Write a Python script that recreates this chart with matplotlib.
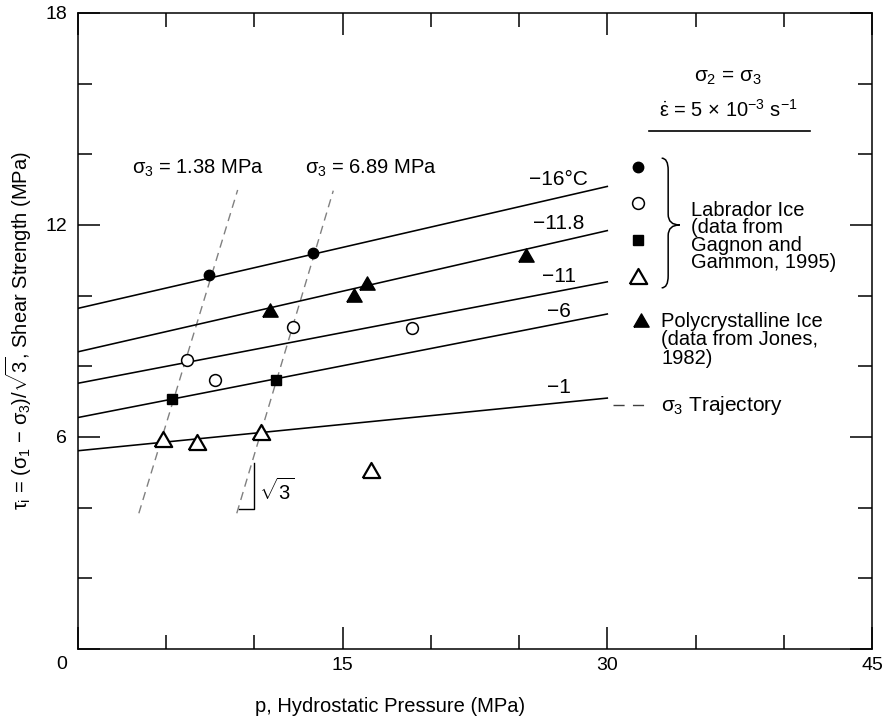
import matplotlib
matplotlib.use('Agg')
import matplotlib.pyplot as plt
from matplotlib.path import Path
from matplotlib.patches import PathPatch
import numpy as np

plt.rcParams['font.family'] = ['Liberation Sans', 'DejaVu Sans']
plt.rcParams['mathtext.fontset'] = 'custom'
plt.rcParams['mathtext.rm'] = 'Liberation Sans'
plt.rcParams['mathtext.it'] = 'Liberation Sans'
plt.rcParams['mathtext.bf'] = 'Liberation Sans:bold'
plt.rcParams['mathtext.sf'] = 'Liberation Sans'

FS = 14.5

# temperature fit lines (p from 0 to 30 MPa)
line_labels = ['\u221216\u00b0C', '\u221211.8', '\u221211', '\u22126', '\u22121']
line_x = [0, 30]
line_y0 = [9.64, 8.41, 7.52, 6.55, 5.61]
line_y1 = [13.09, 11.84, 10.39, 9.48, 7.10]
label_y = [13.30, 12.03, 10.55, 9.54, 7.39]

# Labrador ice (Gagnon and Gammon, 1995)
p_m16 = [7.43, 13.34]
t_m16 = [10.59, 11.22]
p_m118 = [6.16, 7.77, 12.17, 18.95]
t_m118 = [8.18, 7.61, 9.11, 9.09]
p_m6 = [5.35, 11.2]
t_m6 = [7.07, 7.61]
p_m1 = [4.80, 6.73, 10.36, 16.59]
t_m1 = [5.93, 5.87, 6.13, 5.07]

# polycrystalline ice (Jones, 1982)
p_poly = [10.88, 15.65, 16.4, 25.4]
t_poly = [9.58, 10.02, 10.37, 11.15]

# sigma3 trajectories
traj1_p = [3.45, 9.05]
traj1_t = [3.84, 12.99]
traj2_p = [9.0, 14.47]
traj2_t = [3.84, 12.97]

tri = [(-1, -0.866), (1, -0.866), (0, 0.866), (-1, -0.866)]

fig = plt.figure(figsize=(8.83, 7.19), dpi=100)
ax = fig.add_axes([0.0883, 0.0974, 0.8992, 0.8846])

for y0, y1 in zip(line_y0, line_y1):
    ax.plot(line_x, [y0, y1], color='black', lw=1.15, zorder=2)
for lab, ly in zip(line_labels, label_y):
    ax.text(27.25, ly, lab, fontsize=15, ha='center', va='center')

ax.plot(traj1_p, traj1_t, color='#808080', lw=1.0, ls=(0, (6, 4)), zorder=1)
ax.plot(traj2_p, traj2_t, color='#808080', lw=1.0, ls=(0, (6, 4)), zorder=1)
ax.text(3.04, 13.59, r'$\sigma_3$ = 1.38 MPa', fontsize=FS, ha='left', va='center')
ax.text(12.87, 13.59, r'$\sigma_3$ = 6.89 MPa', fontsize=FS, ha='left', va='center')

# sqrt(3) slope mark
ax.plot([9.15, 10.0, 10.0], [3.95, 3.95, 5.25], color='black', lw=1.0)
ax.text(10.25, 4.47, r'$\sqrt{3}$', fontsize=FS, ha='left', va='center')

ms_kw = dict(ls='none', zorder=3, clip_on=False)
ax.plot(p_m16, t_m16, marker='o', ms=7.5, mfc='black', mec='black', **ms_kw)
ax.plot(p_m118, t_m118, marker='o', ms=8.5, mfc='white', mec='black', mew=1.1, **ms_kw)
ax.plot(p_m6, t_m6, marker='s', ms=7.5, mfc='black', mec='black', **ms_kw)
ax.plot(p_m1, t_m1, marker=tri, ms=12.5, mfc='white', mec='black', mew=1.6, **ms_kw)
ax.plot(p_poly, t_poly, marker=tri, ms=11, mfc='black', mec='black', **ms_kw)

# key
ax.text(36.85, 16.16, r'$\sigma_2$ = $\sigma_3$', fontsize=15, ha='center', va='center')
ax.text(36.85, 15.26, r'$\dot{\varepsilon}$ = 5 $\times$ 10$^{-3}$ s$^{-1}$',
        fontsize=FS, ha='center', va='center')
ax.plot([32.37, 41.5], [14.66, 14.66], color='black', lw=1.2)

ax.plot([31.76], [13.65], marker='o', ms=7.5, mfc='black', mec='black', **ms_kw)
ax.plot([31.76], [12.61], marker='o', ms=8.5, mfc='white', mec='black', mew=1.1, **ms_kw)
ax.plot([31.76], [11.58], marker='s', ms=7.5, mfc='black', mec='black', **ms_kw)
ax.plot([31.76], [10.56], marker=tri, ms=12.5, mfc='white', mec='black', mew=1.6, **ms_kw)
ax.plot([31.9], [9.31], marker=tri, ms=11, mfc='black', mec='black', **ms_kw)

verts = [(33.08, 13.89), (33.45, 13.89), (33.45, 13.55),
         (33.45, 12.3),
         (33.45, 12.0), (34.1, 12.0),
         (33.45, 12.0), (33.45, 11.7),
         (33.45, 10.56),
         (33.45, 10.22), (33.08, 10.22)]
codes = [Path.MOVETO, Path.CURVE3, Path.CURVE3, Path.LINETO,
         Path.CURVE3, Path.CURVE3, Path.CURVE3, Path.CURVE3,
         Path.LINETO, Path.CURVE3, Path.CURVE3]
ax.add_patch(PathPatch(Path(verts, codes), fc='none', ec='black', lw=1.1))

ax.text(34.75, 11.67, 'Labrador Ice\n(data from\nGagnon and\nGammon, 1995)',
        fontsize=FS, ha='left', va='center', linespacing=0.9)
ax.text(33.05, 8.75, 'Polycrystalline Ice\n(data from Jones,\n1982)',
        fontsize=FS, ha='left', va='center', linespacing=0.95)
ax.plot([30.33, 32.3], [6.9, 6.9], color='#404040', lw=1.0, ls=(0, (8, 6)))
ax.text(33.05, 6.9, r'$\sigma_3$ Trajectory', fontsize=15, ha='left', va='center')

ax.set_xlim(0, 45)
ax.set_ylim(0, 18)
ax.set_xticks([0, 15, 30, 45])
ax.set_xticklabels(['', '15', '30', '45'])
ax.set_xticks([5, 10, 20, 25, 35, 40], minor=True)
ax.set_yticks([0, 6, 12, 18])
ax.set_yticklabels(['', '6', '12', '18'])
ax.set_yticks([2, 4, 8, 10, 14, 16], minor=True)
ax.tick_params(which='both', direction='in', top=True, right=True, width=1.1, labelsize=14)
ax.tick_params(which='major', length=16)
ax.tick_params(which='minor', length=10)
ax.tick_params(axis='x', pad=6)
ax.tick_params(axis='y', pad=8)
for s in ax.spines.values():
    s.set_linewidth(1.1)
ax.text(-0.9, -0.45, '0', fontsize=14, ha='center', va='center', clip_on=False)

ax.set_xlabel('p, Hydrostatic Pressure (MPa)', fontsize=FS, labelpad=14)
ax.xaxis.set_label_coords(0.393, -0.075)
ax.set_ylabel(r'$\tau_i$ = ($\sigma_1$ $-$ $\sigma_3$)/$\sqrt{3}$, Shear Strength (MPa)',
              fontsize=FS, labelpad=8)

fig.savefig('out.png', dpi=100)
